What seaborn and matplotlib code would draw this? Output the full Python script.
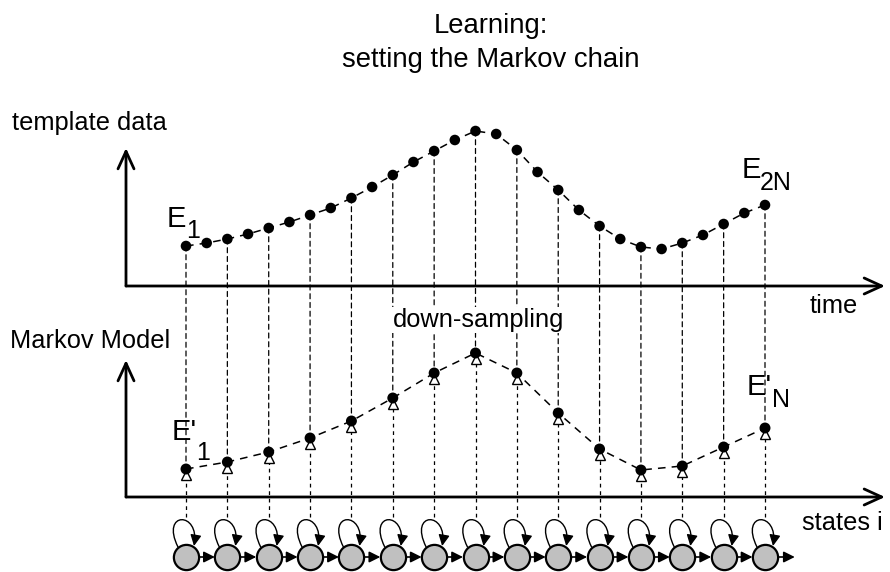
import numpy as np
import matplotlib
matplotlib.use("Agg")
import matplotlib.pyplot as plt
import seaborn as sns
from matplotlib.patches import ConnectionPatch, FancyArrowPatch
from matplotlib.path import Path
from matplotlib.transforms import offset_copy

# template data: 2N samples, height above the time axis
template_time = np.arange(29)
template_vals = [40, 43, 47, 52, 58, 64, 71, 78, 88, 99, 111, 124, 135, 146, 155,
                 152, 136, 114, 96, 76, 60, 47, 39, 37, 43, 51, 62, 73, 81]

# markov model: N states kept after down-sampling (every second sample)
states = np.arange(15)
markov_vals = [28, 35, 45, 59, 76, 99, 124, 144, 124, 84, 48, 27, 31, 50, 69]

sns.set_style("white")
plt.rcParams["font.family"] = ["Liberation Sans", "DejaVu Sans"]
plt.rcParams["text.color"] = "black"

W, H = 890, 572
fig = plt.figure(figsize=(W / 100, H / 100), dpi=100)


def px_axes(x0, x1, y0, y1):
    return fig.add_axes([x0 / W, 1 - y1 / H, (x1 - x0) / W, (y1 - y0) / H])


def px_text(x, y, s, size=18.3, **kw):
    fig.text(x / W, 1 - y / H, s, fontsize=size, va="baseline", **kw)


# one unit of time = 20.7 px, one state = 2 time steps; 1 value unit = 1 px
dx_t = (765 - 186) / 28
dx_b = 2 * dx_t
ax_top = px_axes(126, 885, 60, 300)
ax_bot = px_axes(126, 885, 300, 572)
ax_top.set_xlim((126 - 186) / dx_t, (885 - 186) / dx_t)
ax_top.set_ylim(-14, 226)
ax_bot.set_xlim((126 - 186) / dx_b, (885 - 186) / dx_b)
ax_bot.set_ylim(-75, 197)
for ax in (ax_top, ax_bot):
    ax.set_axis_off()
    ax.patch.set_alpha(0)

axis_arrow = dict(arrowstyle="->,head_length=0.7,head_width=0.32", lw=2, color="k",
                  shrinkA=0, shrinkB=0, mutation_scale=18)
for ax, ytop in ((ax_top, 138), (ax_bot, 137)):
    xl, xr = ax.get_xlim()
    ax.annotate("", xy=(xl, ytop), xytext=(xl, 0), arrowprops=axis_arrow, annotation_clip=False)
    ax.annotate("", xy=(xr, 0), xytext=(xl, 0), arrowprops=axis_arrow, annotation_clip=False)

# template curve
sns.lineplot(x=template_time, y=template_vals, ax=ax_top, color="k", lw=1.1,
             linestyle=(0, (5, 4)), zorder=3)
sns.scatterplot(x=template_time, y=template_vals, ax=ax_top, color="k", s=58,
                edgecolor="none", zorder=4)

# markov model curve
sns.lineplot(x=states, y=markov_vals, ax=ax_bot, color="k", lw=1.1,
             linestyle=(0, (5, 4)), zorder=3)

# down-sampling connectors
for j in states:
    i = 2 * j
    con = ConnectionPatch(xyA=(template_time[i], template_vals[i]), coordsA=ax_top.transData,
                          xyB=(states[j], markov_vals[j]), coordsB=ax_bot.transData,
                          color="k", lw=0.9, linestyle=(0, (4, 3)), zorder=1)
    fig.add_artist(con)

CHAIN_Y = -60
ax_bot.vlines(states, -20, markov_vals, colors="k", lw=0.9, linestyles=(0, (3, 3)), zorder=1)
tri_tf = offset_copy(ax_bot.transData, fig=fig, x=0, y=-6, units="dots")
ax_bot.plot(states, markov_vals, ls="none", marker="^", ms=7, mfc="white", mec="k",
            mew=1, transform=tri_tf, zorder=3)
sns.scatterplot(x=states, y=markov_vals, ax=ax_bot, color="k", s=62,
                edgecolor="none", zorder=4)

# chain of states
sns.scatterplot(x=states, y=np.full(len(states), CHAIN_Y), ax=ax_bot, s=330,
                color="#c0c0c0", edgecolor="k", linewidth=1.6, zorder=5)
r = 12.5 / dx_b
u = 1 / dx_b
for j in states:
    end = j + 1 - r if j < states[-1] else j + 0.72
    ax_bot.annotate("", xy=(end, CHAIN_Y), xytext=(j + r, CHAIN_Y),
                    arrowprops=dict(arrowstyle="-|>,head_length=0.6,head_width=0.3",
                                    lw=1.2, color="k", shrinkA=0, shrinkB=0,
                                    mutation_scale=11),
                    annotation_clip=False, zorder=4)
    loop = Path([(j - 8 * u, CHAIN_Y + 10), (j - 26 * u, CHAIN_Y + 46),
                 (j + 14 * u, CHAIN_Y + 46), (j + 8 * u, CHAIN_Y + 11)],
                [Path.MOVETO, Path.CURVE4, Path.CURVE4, Path.CURVE4])
    ax_bot.add_patch(FancyArrowPatch(path=loop, arrowstyle="-|>,head_length=0.6,head_width=0.3",
                                     mutation_scale=11, lw=1, color="k", zorder=6))

# texts
px_text(491, 33, "Learning:", size=19.8, ha="center")
px_text(491, 67, "setting the Markov chain", size=19.8, ha="center")
px_text(12, 130, "template data")
px_text(10, 348, "Markov Model")
px_text(810, 313, "time")
px_text(802, 530, "states i")
px_text(393, 327, "down-sampling",
        bbox=dict(fc="white", ec="none", pad=1))

px_text(167, 227, "E", size=21)
px_text(186, 238, "1", size=18)
px_text(742, 178, "E", size=21)
px_text(760, 190, "2N", size=18)
px_text(172, 440, "E'", size=21)
px_text(196, 460, "1", size=18)
px_text(747, 395, "E'", size=21)
px_text(772, 407, "N", size=18)

fig.savefig("out.png", dpi=100)
